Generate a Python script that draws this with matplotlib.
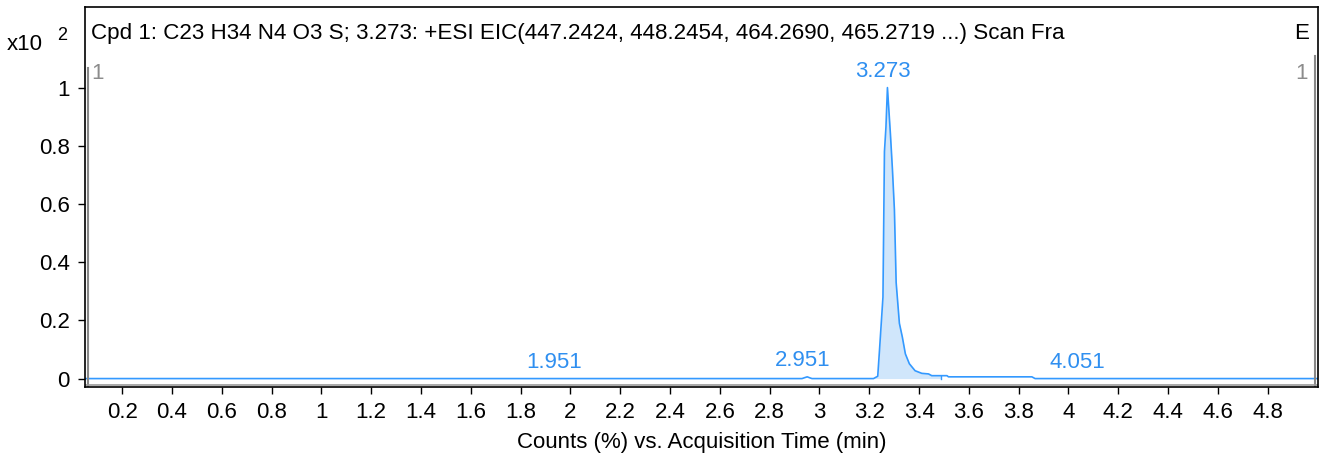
import numpy as np
import matplotlib
matplotlib.use('Agg')
import matplotlib.pyplot as plt

plt.rcParams['font.family'] = ['Liberation Sans', 'DejaVu Sans']

# EIC trace, counts x10^2 vs. acquisition time (min)
t = [0.05, 1.95, 2.93, 2.94, 2.951, 2.96, 2.97, 3.217, 3.234, 3.241, 3.255, 3.261,
     3.267, 3.273, 3.285, 3.293, 3.301, 3.308, 3.321, 3.333, 3.345, 3.361, 3.384, 3.411,
     3.438, 3.451, 3.490, 3.512, 3.518, 3.853, 3.866, 4.051, 5.0]
counts = [0.0, 0.0, 0.0, 0.003, 0.006, 0.003, 0.0, 0.0, 0.008, 0.096, 0.28, 0.78,
          0.864, 1.0, 0.84, 0.72, 0.58, 0.33, 0.19, 0.142, 0.085, 0.051, 0.027, 0.018,
          0.016, 0.010, 0.010, 0.010, 0.006, 0.006, 0.0, 0.0, 0.0]

# integrated peak window
peak_start, peak_end = 3.217, 3.490

# peak labels: retention time and label height
peak_rt = [1.951, 2.951, 3.273, 4.051]
peak_h = [0.0, 0.006, 1.0, 0.0]

title = 'Cpd 1: C23 H34 N4 O3 S; 3.273: +ESI EIC(447.2424, 448.2454, 464.2690, 465.2719 ...) Scan Fra'

blue = '#3399ff'
label_blue = '#2f8ff0'
fs = 16

fig = plt.figure(figsize=(13.24, 4.63), dpi=100)
ax = fig.add_axes([0.0642, 0.1641, 0.9313, 0.8208])

t = np.array(t)
counts = np.array(counts)
win = (t >= peak_start) & (t <= peak_end)
ax.fill_between(t[win], 0, counts[win], color='#d0e6fb', lw=0)
ax.plot([peak_end, peak_end], [0, np.interp(peak_end, t, counts)], color=blue, lw=1)
ax.plot(t, counts, color=blue, lw=1.2)

for rt, h in zip(peak_rt, peak_h):
    ax.annotate(f'{rt:.3f}', (rt, h), xytext=(-3, 4), textcoords='offset points',
                ha='center', va='bottom', color=label_blue, fontsize=fs)

ax.set_xlim(0.051, 5.002)
ax.set_ylim(-0.029, 1.277)

xt = np.round(np.arange(0.2, 4.81, 0.2), 1)
ax.set_xticks(xt)
ax.set_xticklabels([f'{v:g}' for v in xt])
yt = [0, 0.2, 0.4, 0.6, 0.8, 1]
ax.set_yticks(yt)
ax.set_yticklabels([f'{v:g}' for v in yt])
ax.tick_params(direction='out', length=5, width=1, labelsize=fs, pad=6)

for s in ax.spines.values():
    s.set_linewidth(1.2)

# gray marker bars and shadow lines inside the frame
ax.plot([0.0025, 0.0025], [0, 0.84], transform=ax.transAxes, color='#888888', lw=1.5)
ax.plot([0.9975, 0.9975], [0, 0.87], transform=ax.transAxes, color='#888888', lw=1.5)
ax.plot([0, 1], [0.006, 0.006], transform=ax.transAxes, color='#999999', lw=1.2)

ax.text(0.005, 0.93, title, transform=ax.transAxes, fontsize=16.1, va='center', ha='left')
ax.text(0.993, 0.93, 'E', transform=ax.transAxes, fontsize=fs, va='center', ha='right')
ax.text(0.005, 0.826, '1', transform=ax.transAxes, fontsize=fs, color='#8c8c8c', va='center', ha='left')
ax.text(0.992, 0.826, '1', transform=ax.transAxes, fontsize=fs, color='#8c8c8c', va='center', ha='right')

fig.text(7 / 1324, 1 - 45 / 463, 'x10', fontsize=fs, va='center', ha='left')
fig.text(57 / 1324, 1 - 36 / 463, '2', fontsize=13, va='center', ha='left')

ax.set_xlabel('Counts (%) vs. Acquisition Time (min)', fontsize=fs, labelpad=6.5)

fig.savefig('out.png', dpi=100)
